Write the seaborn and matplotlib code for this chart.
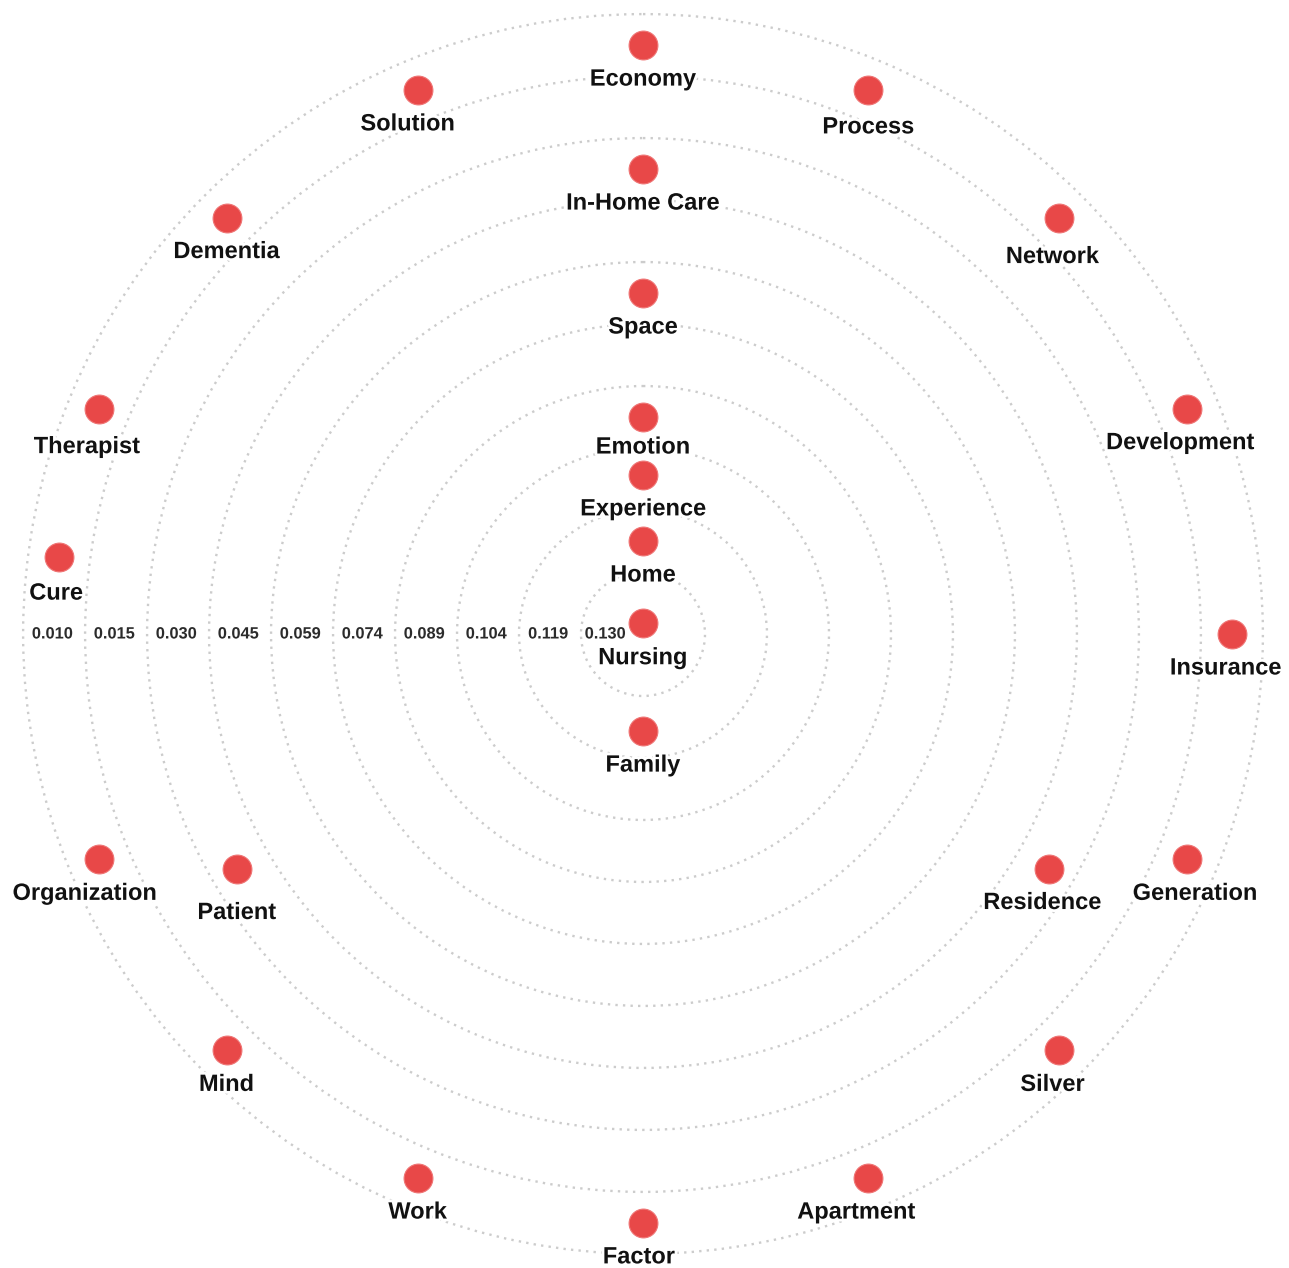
import numpy as np
import pandas as pd
import seaborn as sns
import matplotlib.pyplot as plt
import matplotlib.patheffects as pe

# keyword, angle (deg, clockwise from top) and weight
keywords = ["Economy", "Process", "Network", "Development", "Insurance",
            "Generation", "Silver", "Apartment", "Factor", "Work", "Mind",
            "Organization", "Cure", "Therapist", "Dementia", "Solution",
            "Patient", "Residence", "In-Home Care", "Space", "Emotion",
            "Experience", "Home", "Nursing", "Family"]
angles = [0, 22.5, 45, 67.5, 90, 112.5, 135, 157.5, 180, 202.5, 225,
          247.5, 277.5, 292.5, 315, 337.5,
          240, 120, 0, 0, 0, 0, 0, 0, 180]
weights = [0.010, 0.010, 0.010, 0.010, 0.010, 0.010, 0.010, 0.010, 0.010,
           0.010, 0.010, 0.010, 0.010, 0.010, 0.010, 0.010,
           0.029, 0.029, 0.030, 0.059, 0.089, 0.103, 0.119, 0.137, 0.118]

# radial axis: one band per ring, value printed at the middle of the band
tick_values = [0.130, 0.119, 0.104, 0.089, 0.074, 0.059, 0.045, 0.030, 0.015, 0.010]
tick_labels = ["0.130", "0.119", "0.104", "0.089", "0.074",
               "0.059", "0.045", "0.030", "0.015", "0.010"]
axis_center = 0.141

# small label nudges (pixels) where the original layout moved a label
label_nudge = {"Solution": -10, "Therapist": -12, "Organization": -14,
               "Apartment": -12, "Network": -7, "Development": -7,
               "Residence": -7, "Silver": -7, "Generation": 8, "Insurance": -6,
               "Factor": -4, "Cure": -3}
label_drop = {"Patient": 10, "Therapist": 4, "Network": 5, "Process": 3,
              "Emotion": -4, "Nursing": 1, "Cure": 2}


def weight_to_radius(w):
    '''
    Map a weight to its radial position on the banded axis
    '''
    levels = np.array([axis_center] + tick_values)
    pos = np.array([0.0] + [i + 0.5 for i in range(len(tick_values))])
    return np.interp(-np.asarray(w), -levels, pos)


def main():
    df = pd.DataFrame({"keyword": keywords, "angle": angles, "weight": weights})
    df["theta"] = np.deg2rad(df["angle"])
    df["r"] = weight_to_radius(df["weight"])

    sns.set_theme(style="white")
    plt.rcParams["font.family"] = ["Liberation Sans", "DejaVu Sans"]

    fig = plt.figure(figsize=(12.89, 12.68), dpi=100)
    # leave a hair of room past the last ring so it is not clipped
    ax = fig.add_axes([20 / 1289, 11 / 1268, 1246 / 1289, 1246 / 1268],
                      projection="polar")
    ax.set_theta_zero_location("N")
    ax.set_theta_direction(-1)
    ax.set_ylim(0, 10.05)
    ax.set_yticks(range(1, 11))
    ax.set_yticklabels([])
    ax.set_xticks([])
    ax.yaxis.grid(True, linestyle=(0, (1, 2.2)), color="#cccccc", linewidth=1.7)
    ax.spines["polar"].set_visible(False)
    ax.set_facecolor("white")

    sns.scatterplot(data=df, x="theta", y="r", ax=ax, s=430,
                    color="#e84848", edgecolor="#ef7575", linewidth=0.8,
                    zorder=3, legend=False)
    ax.set_xlabel("")
    ax.set_ylabel("")

    halo = [pe.withStroke(linewidth=4, foreground="white")]
    for _, row in df.iterrows():
        dx = label_nudge.get(row["keyword"], 0) * 0.72
        dy = -(34 + label_drop.get(row["keyword"], 0)) * 0.72
        ax.annotate(row["keyword"], (row["theta"], row["r"]),
                    xytext=(dx, dy), textcoords="offset points",
                    ha="center", va="center", fontsize=17,
                    fontweight="bold", color="#111111",
                    path_effects=halo, zorder=4)

    for i, lab in enumerate(tick_labels):
        r = 0.61 if i == 0 else i + 0.53
        ax.text(np.deg2rad(270), r, lab, ha="center", va="center",
                fontsize=11.8, fontweight="bold", color="#2b2b2b",
                path_effects=halo, zorder=4)

    fig.savefig("out.png", dpi=100, facecolor="white")


if __name__ == "__main__":
    main()
